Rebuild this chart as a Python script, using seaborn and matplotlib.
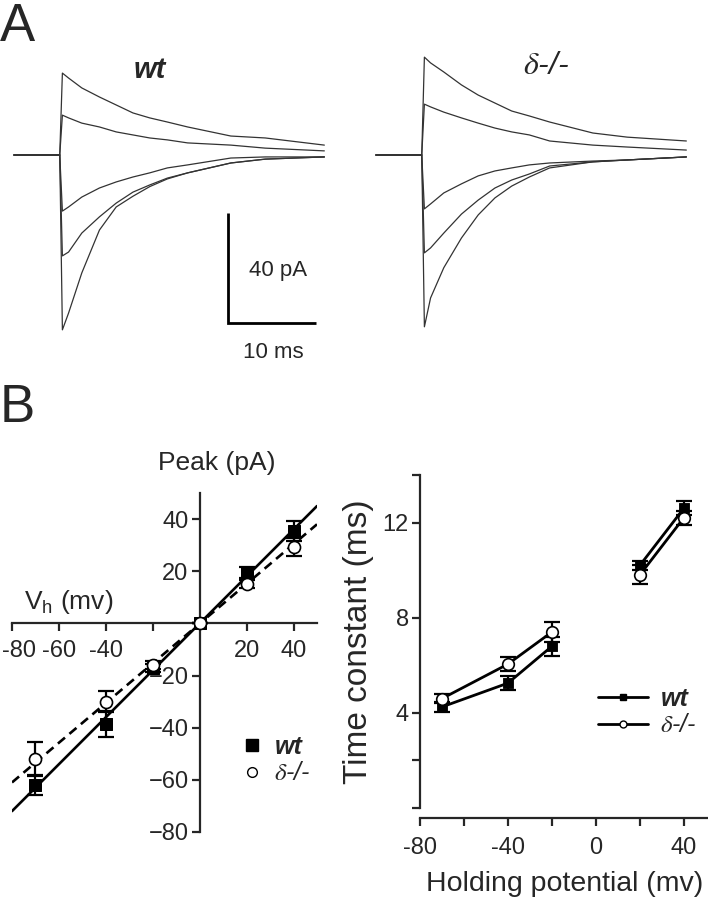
import numpy as np
import pandas as pd
import matplotlib.pyplot as plt
import matplotlib.transforms as mtransforms
import seaborn as sns
from matplotlib.lines import Line2D

sns.set_style('ticks')
plt.rcParams['font.family'] = ['Liberation Sans', 'DejaVu Sans']
plt.rcParams['axes.linewidth'] = 1.6

W, H = 708, 899

def fx(px):
    return px / W

def fy(py):
    return 1 - py / H

# ---- panel A: traces (time ms, current pA) ----
t_ms = [-5.2, 0, 0.3, 1, 2.5, 4.5, 6.4, 8.3, 10.2, 12.2, 14.5, 19.4, 23.3, 30]
wt_p40 = [0, 0, 29.8, 28.0, 24.4, 21.1, 18.2, 15.3, 13.5, 12.0, 10.2, 6.9, 6.2, 3.6]
wt_p20 = [0, 0, 14.5, 13.5, 11.6, 10.2, 8.4, 7.3, 6.2, 5.5, 4.4, 3.6, 2.5, 1.5]
wt_m20 = [0, 0, -20.4, -18.9, -15.3, -12.0, -9.8, -8.0, -6.5, -4.7, -3.6, -1.1, -0.7, -0.7]
wt_m40 = [0, 0, -36.7, -35.3, -28.4, -22.5, -17.5, -13.5, -10.9, -8.4, -6.5, -2.9, -1.5, -0.7]
wt_m70 = [0, 0, -63.6, -57.5, -42.9, -27.3, -18.9, -15.0, -11.5, -8.7, -6.5, -2.9, -1.5, -0.7]

del_p40 = [0, 0, 35.6, 33.5, 30.2, 25.5, 21.8, 18.9, 16.0, 14.2, 12.0, 8.0, 6.5, 5.1]
del_p20 = [0, 0, 18.5, 17.5, 15.6, 13.5, 11.6, 9.8, 8.4, 7.3, 5.1, 3.6, 2.9, 1.8]
del_m20 = [0, 0, -19.6, -17.8, -13.8, -10.5, -7.6, -5.8, -4.7, -3.6, -2.9, -2.2, -1.8, -0.7]
del_m40 = [0, 0, -35.6, -33.8, -28.4, -21.5, -16.4, -12.0, -9.1, -6.9, -4.0, -2.5, -1.8, -0.7]
del_m70 = [0, 0, -62.5, -52.0, -41.0, -30.2, -21.8, -15.6, -11.3, -8.0, -4.7, -2.5, -1.8, -0.7]

# scale bar
bar_t0, bar_i0 = 19.1, -61.1
bar_ms, bar_pa = 10, 40

# ---- panel B left: I-V ----
vh = [-70, -40, -20, 0, 20, 40]
peak_wt = [-62, -38.5, -17, 0, 19.5, 35.4]
peak_wt_err = [4, 5, 1.5, 0, 2, 3.8]
peak_del = [-52, -30, -16, 0, 15, 29.2]
peak_del_err = [6.5, 4, 1.5, 0, 1.5, 3.4]
fit_x = [-80, 50]
fit_wt = [-72, 45]
fit_del = [-61, 38]

# ---- panel B right: time constant ----
tau_vh = [-70, -40, -20, 20, 40]
tau_seg = [0, 0, 0, 1, 1]
tau_wt = [4.25, 5.25, 6.8, 10.2, 12.6]
tau_wt_err = [0.2, 0.3, 0.4, 0.2, 0.3]
tau_del = [4.6, 6.05, 7.4, 9.8, 12.2]
tau_del_err = [0.2, 0.3, 0.4, 0.4, 0.3]

fig = plt.figure(figsize=(W / 100, H / 100), dpi=100)

trace_sets = [
    ('wt', 13, [wt_p40, wt_p20, wt_m20, wt_m40, wt_m70]),
    ('del', 375, [del_p40, del_p20, del_m20, del_m40, del_m70]),
]
for name, left_px, traces in trace_sets:
    ax = fig.add_axes([fx(left_px), fy(340), 314 / W, 290 / H])
    rows = []
    for k, tr in enumerate(traces):
        for t, i in zip(t_ms, tr):
            rows.append({'t': t, 'I': i, 'trace': k})
    df = pd.DataFrame(rows)
    sns.lineplot(data=df, x='t', y='I', units='trace', estimator=None,
                 color='#333333', lw=0.9, ax=ax, legend=False)
    ax.set_xlim(-5.3, 30.3)
    ax.set_ylim(-67.3, 38.2)
    ax.axis('off')
    if name == 'wt':
        ax.plot([bar_t0, bar_t0, bar_t0 + bar_ms],
                [bar_i0 + bar_pa, bar_i0, bar_i0], color='black', lw=2,
                solid_capstyle='butt', solid_joinstyle='miter')

fig.text(0.0, fy(2), 'A', fontsize=38, va='top', ha='left')
fig.text(fx(150), fy(70), 'wt', fontsize=21, fontweight='bold', style='italic',
         ha='center', va='center')
fig.text(fx(546), fy(66), r'$\delta$-/-', fontsize=23, style='italic',
         ha='center', va='center', math_fontfamily='stix')
fig.text(fx(278), fy(270), '40 pA', fontsize=16, ha='center', va='center')
fig.text(fx(273), fy(352), '10 ms', fontsize=16, ha='center', va='center')

# ---- I-V axes ----
ax1 = fig.add_axes([fx(12), fy(832), 305 / W, 339 / H])
ax1.errorbar(vh, peak_wt, yerr=peak_wt_err, fmt='none', ecolor='black',
             elinewidth=1.6, capsize=6, capthick=1.6, zorder=3)
ax1.errorbar(vh, peak_del, yerr=peak_del_err, fmt='none', ecolor='black',
             elinewidth=1.6, capsize=6, capthick=1.6, zorder=3)
sns.lineplot(x=fit_x, y=fit_wt, color='black', lw=1.9, ax=ax1, zorder=2)
sns.lineplot(x=fit_x, y=fit_del, color='black', lw=1.9, ax=ax1, zorder=2,
             dashes=False, linestyle=(0, (3.5, 2.2)))
sns.scatterplot(x=vh, y=peak_wt, marker='s', s=80, color='black',
                edgecolor='black', ax=ax1, zorder=4)
sns.scatterplot(x=vh, y=peak_del, marker='o', s=75, color='white',
                edgecolor='black', linewidth=1.2, ax=ax1, zorder=5)
ax1.set_xlim(-80, 50)
ax1.set_ylim(-80, 50)
ax1.spines['left'].set_position(('data', 0))
ax1.spines['bottom'].set_position(('data', 0))
ax1.spines['top'].set_visible(False)
ax1.spines['right'].set_visible(False)
ax1.set_xticks([-80, -60, -40, -20, 20, 40])
ax1.set_xticklabels(['-80', '-60', '-40', '', '20', '40'])
ax1.set_yticks([-80, -60, -40, -20, 20, 40])
ax1.tick_params(direction='out', length=6, width=1.6, labelsize=17)
ax1.tick_params(axis='x', pad=6)
ax1.tick_params(axis='y', pad=2)
ax1.set_xlabel('')
ax1.set_ylabel('')
# nudge the edge label "-80" so it stays inside the figure
first = ax1.get_xticklabels()[0]
first.set_transform(first.get_transform() +
                    mtransforms.ScaledTranslation(5 / 72, 0, fig.dpi_scale_trans))

fig.text(0.0, fy(383), 'B', fontsize=38, va='top', ha='left')
fig.text(fx(217), fy(463), 'Peak (pA)', fontsize=19, ha='center', va='center')
fig.text(fx(24), fy(602), r'V$_\mathregular{h}$ (mv)', fontsize=19,
         ha='left', va='center')

h1 = [Line2D([], [], marker='s', color='black', ls='none', markersize=8),
      Line2D([], [], marker='o', color='black', markerfacecolor='white',
             ls='none', markersize=7)]
leg1 = ax1.legend(h1, ['wt', r'$\delta$-/-'], loc='center left',
                  bbox_to_anchor=(fx(242), fy(760)), bbox_transform=fig.transFigure,
                  frameon=False, borderpad=0, borderaxespad=0,
                  handlelength=0.8, handletextpad=0.5,
                  labelspacing=0.1, fontsize=18)
for txt in leg1.get_texts():
    txt.set_style('italic')
    txt.set_math_fontfamily('stix')
leg1.get_texts()[0].set_fontweight('bold')

# ---- tau axes ----
ax2 = fig.add_axes([fx(420), fy(808), 288 / W, 333 / H])
tau_df = pd.DataFrame({
    'vh': tau_vh * 2,
    'tau': tau_wt + tau_del,
    'geno': ['wt'] * 5 + ['del'] * 5,
    'seg': [s for s in tau_seg] + [s + 2 for s in tau_seg],
})
ax2.errorbar(tau_vh, tau_wt, yerr=tau_wt_err, fmt='none', ecolor='black',
             elinewidth=1.6, capsize=6, capthick=1.6, zorder=3)
ax2.errorbar(tau_vh, tau_del, yerr=tau_del_err, fmt='none', ecolor='black',
             elinewidth=1.6, capsize=6, capthick=1.6, zorder=3)
sns.lineplot(data=tau_df, x='vh', y='tau', units='seg', estimator=None,
             color='black', lw=2, ax=ax2, legend=False, zorder=2)
sns.scatterplot(x=tau_vh, y=tau_wt, marker='s', s=60, color='black',
                edgecolor='black', ax=ax2, zorder=4)
sns.scatterplot(x=tau_vh, y=tau_del, marker='o', s=70, color='white',
                edgecolor='black', linewidth=1.2, ax=ax2, zorder=5)
ax2.set_xlim(-80, 51)
ax2.set_ylim(0, 14)
ax2.spines['top'].set_visible(False)
ax2.spines['right'].set_visible(False)
ax2.spines['bottom'].set_position(('outward', 7))
ax2.set_xticks([-80, -60, -40, -20, 0, 20, 40])
ax2.set_xticklabels(['-80', '', '-40', '', '0', '', '40'])
ax2.set_yticks([0, 2, 4, 8, 12, 14])
ax2.set_yticklabels(['', '', '4', '8', '12', ''])
ax2.tick_params(direction='out', length=6, width=1.6, labelsize=17)
ax2.tick_params(axis='x', pad=8)
ax2.tick_params(axis='y', pad=2)
ax2.set_xlabel('')
ax2.set_ylabel('Time constant (ms)', fontsize=24, labelpad=6)
fig.text(fx(565), fy(884), 'Holding potential (mv)', fontsize=20.5,
         ha='center', va='center')

h2 = [Line2D([], [], marker='s', color='black', lw=2, markersize=5),
      Line2D([], [], marker='o', color='black', markerfacecolor='white', lw=2,
             markersize=5)]
leg2 = ax2.legend(h2, ['wt', r'$\delta$-/-'], loc='center left',
                  bbox_to_anchor=(fx(598), fy(712)), bbox_transform=fig.transFigure,
                  frameon=False, borderpad=0, borderaxespad=0,
                  handlelength=2.0, handletextpad=0.5,
                  labelspacing=0.1, fontsize=18)
for txt in leg2.get_texts():
    txt.set_style('italic')
    txt.set_math_fontfamily('stix')
leg2.get_texts()[0].set_fontweight('bold')

fig.savefig('out.png', dpi=100)
